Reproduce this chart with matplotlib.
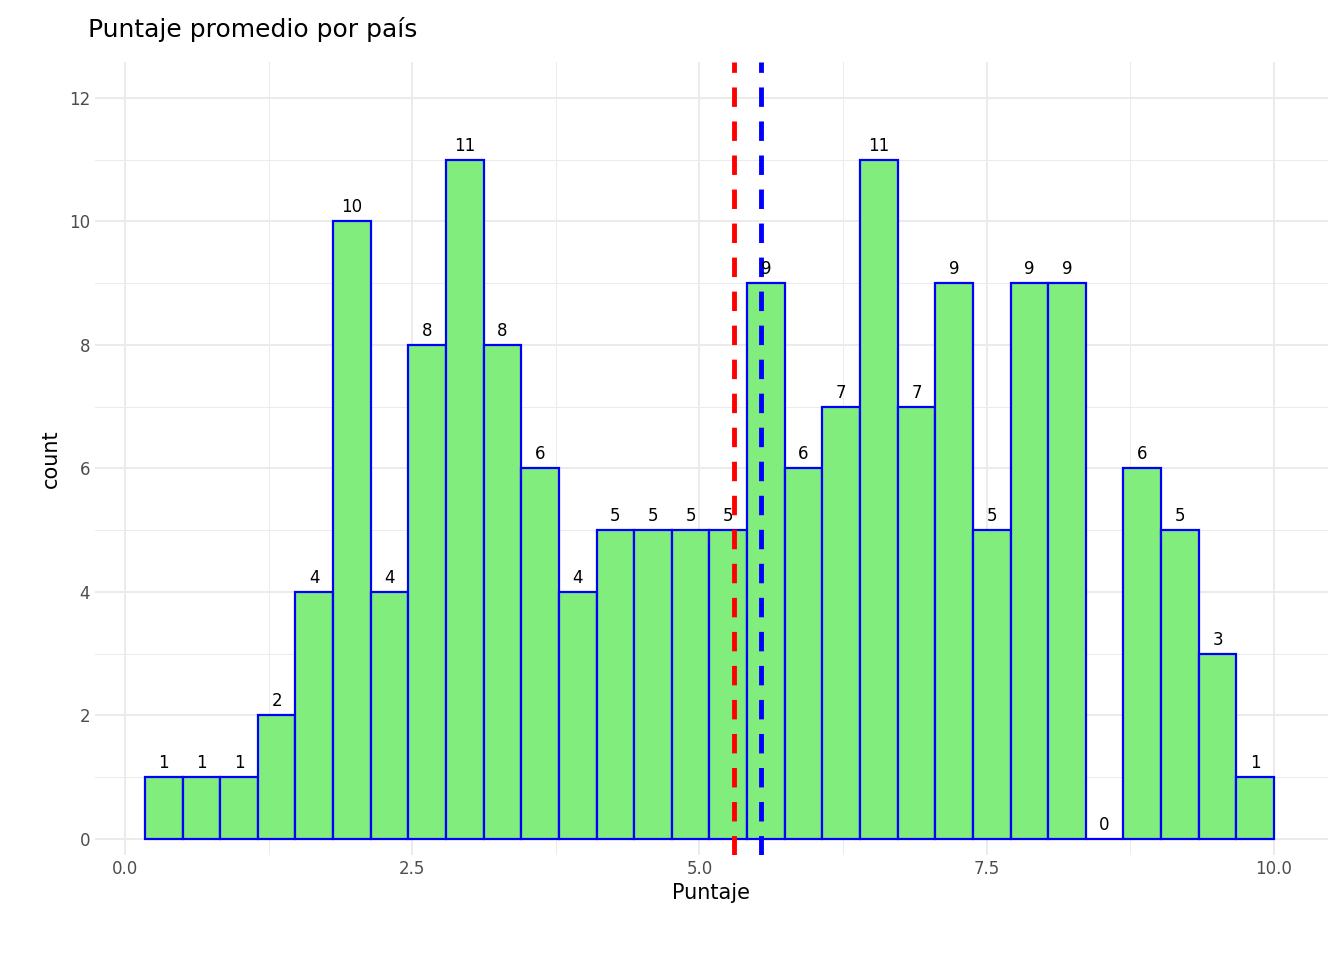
import numpy as np
import matplotlib
matplotlib.use("Agg")
import matplotlib.pyplot as plt

# histogram of scores, 30 bins
bin_start = 0.174
bin_end = 10.0
counts = [1, 1, 1, 2, 4, 10, 4, 8, 11, 8, 6, 4, 5, 5, 5, 5, 9, 6, 7, 11, 7, 9, 5, 9, 9, 0, 6, 5, 3, 1]
mean_value = 5.30
median_value = 5.54

edges = np.linspace(bin_start, bin_end, len(counts) + 1)
width = edges[1] - edges[0]

fig = plt.figure(figsize=(13.44, 9.6), dpi=100)
ax = fig.add_axes([95 / 1344, 1 - 855 / 960, (1328 - 95) / 1344, (855 - 62) / 960])

ax.set_xlim(-0.26, 10.47)
ax.set_ylim(-0.26, 12.58)
ax.set_xticks([0, 2.5, 5, 7.5, 10])
ax.set_xticklabels(["0.0", "2.5", "5.0", "7.5", "10.0"])
ax.set_yticks(range(0, 13, 2))
ax.set_xticks([1.25, 3.75, 6.25, 8.75], minor=True)
ax.set_yticks(range(1, 13, 2), minor=True)
ax.grid(True, which="major", color="#ebebeb", lw=1.4)
ax.grid(True, which="minor", color="#ebebeb", lw=0.7)
ax.set_axisbelow(True)
for s in ax.spines.values():
    s.set_visible(False)
ax.tick_params(which="both", length=0, labelsize=12, colors="#4d4d4d")

ax.bar(edges[:-1], counts, width=width, align="edge", color="#80ed7c",
       edgecolor="blue", linewidth=1.6)
for x, c in zip(edges[:-1] + width / 2, counts):
    ax.text(x, c + 0.08, str(c), ha="center", va="bottom", fontsize=12)

ax.axvline(mean_value, color="red", ls=(0, (4, 3)), lw=3.5)
ax.axvline(median_value, color="blue", ls=(0, (4, 3)), lw=3.5)

ax.set_xlabel("Puntaje", fontsize=15, labelpad=4)
ax.set_ylabel("count", fontsize=15, labelpad=6)
fig.text(88 / 1344, 1 - 30 / 960, "Puntaje promedio por país", fontsize=18, va="center")

fig.savefig("out.png", dpi=100)
